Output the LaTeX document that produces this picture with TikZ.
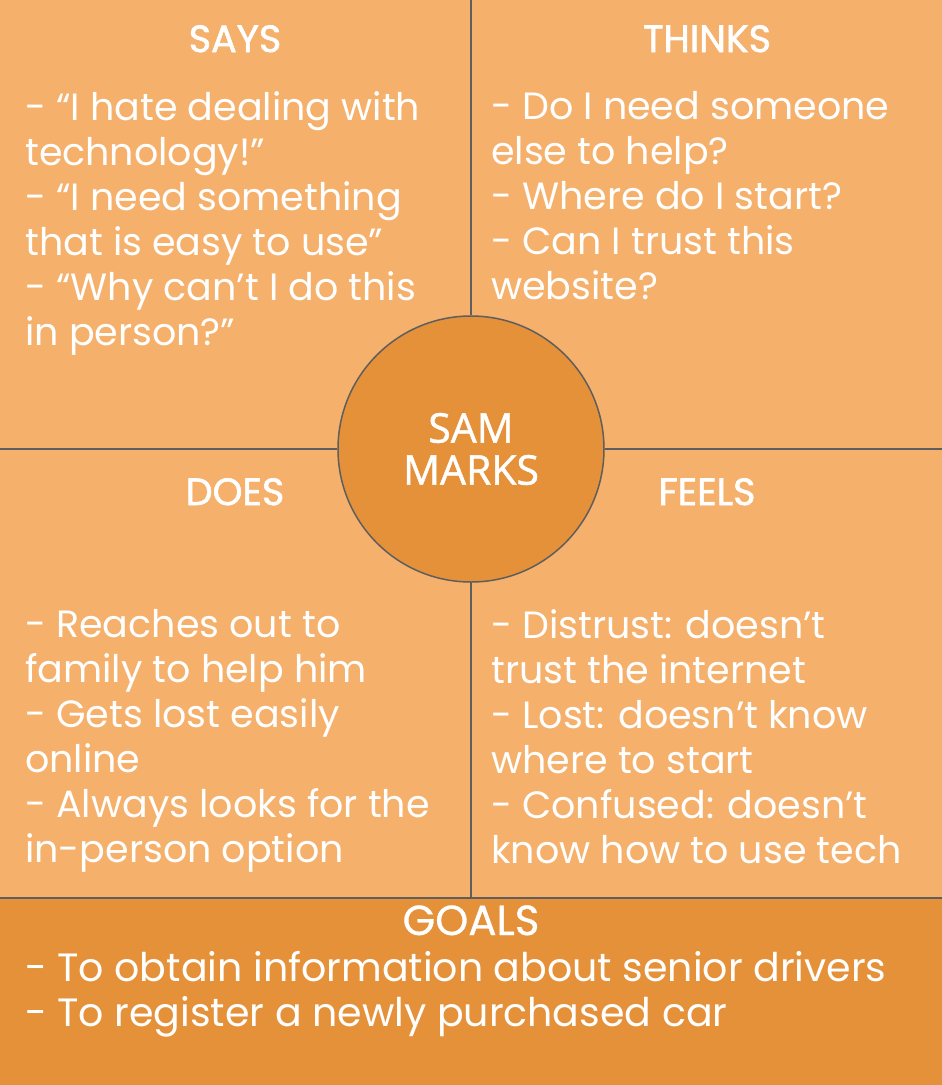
\documentclass[tikz,border=0pt]{standalone}
\usepackage{fontspec}
\setmainfont{Poppins}
\newfontfamily\titlefont{Poppins}[FakeBold=1.6]
\newfontfamily\namefont{Open Sans}[FakeBold=1.2]
\usetikzlibrary{positioning}
\definecolor{lightorange}{HTML}{F5B06B}
\definecolor{darkorange}{HTML}{E5913A}
\definecolor{linegray}{HTML}{5E5E5E}
\tikzset{
  title/.style={text=white, font=\titlefont\fontsize{38}{40}\selectfont, inner sep=0pt, anchor=base},
  body/.style={text=white, font=\fontsize{38}{45}\selectfont, align=left, anchor=north west, inner sep=0pt},
  divider/.style={draw=linegray, line width=1.5pt},
}
\begin{document}
\begin{tikzpicture}[x=1pt, y=-1pt]
  \useasboundingbox (0,0) rectangle (942,1085);
  \fill[lightorange] (0,0) rectangle (942,898);
  \fill[darkorange] (0,898) rectangle (942,1085);

  % frame points
  \coordinate (top) at (471,0);
  \coordinate (mid) at (471,898);
  \coordinate (left) at (0,449);
  \coordinate (right) at (942,449);
  \coordinate (gl) at (0,898);
  \coordinate (gr) at (942,898);

  \node[circle, fill=darkorange, draw=linegray, line width=1.5pt, minimum size=266pt, inner sep=0pt] (sam) at (471,449) {};
  \node[text=white, font=\namefont\fontsize{41}{42}\selectfont, align=center] (name) at (471,449) {SAM\\MARKS};

  \draw[divider] (top) -- (sam.north);
  \draw[divider] (sam.south) -- (mid);
  \draw[divider] (left) -- (sam.west);
  \draw[divider] (sam.east) -- (right);
  \draw[divider] (gl) -- (gr);

  % quadrant titles
  \node[title] (says) at (235,52) {SAYS};
  \node[title] (thinks) at (707,52) {THINKS};
  \node[title] (does) at (235,505) {DOES};
  \node[title] (feels) at (707,505) {FEELS};

  % quadrant texts
  \node[body] (saystext) at (25,91) {- “I hate dealing with\\technology!”\\- “I need something\\that is easy to use”\\- “Why can’t I do this\\in person?”};
  \node[body] (thinkstext) at (491,91) {- Do I need someone\\else to help?\\- Where do I start?\\- Can I trust this\\website?};
  \node[body] (doestext) at (25,609) {- Reaches out to\\family to help him\\- Gets lost easily\\online\\- Always looks for the\\in-person option};
  \node[body] (feelstext) at (491,609) {- Distrust: doesn’t\\trust the internet\\- Lost: doesn’t know\\where to start\\- Confused: doesn’t\\know how to use tech};

  % goals
  \node[title, font=\addfontfeature{FakeBold=0.8}\fontsize{42}{44}\selectfont] (goals) at (471,935) {GOALS};
  \node[body, font=\fontsize{39.5}{45}\selectfont] (goalstext) at (25,951) {- To obtain information about senior drivers\\- To register a newly purchased car};
\end{tikzpicture}
\end{document}
